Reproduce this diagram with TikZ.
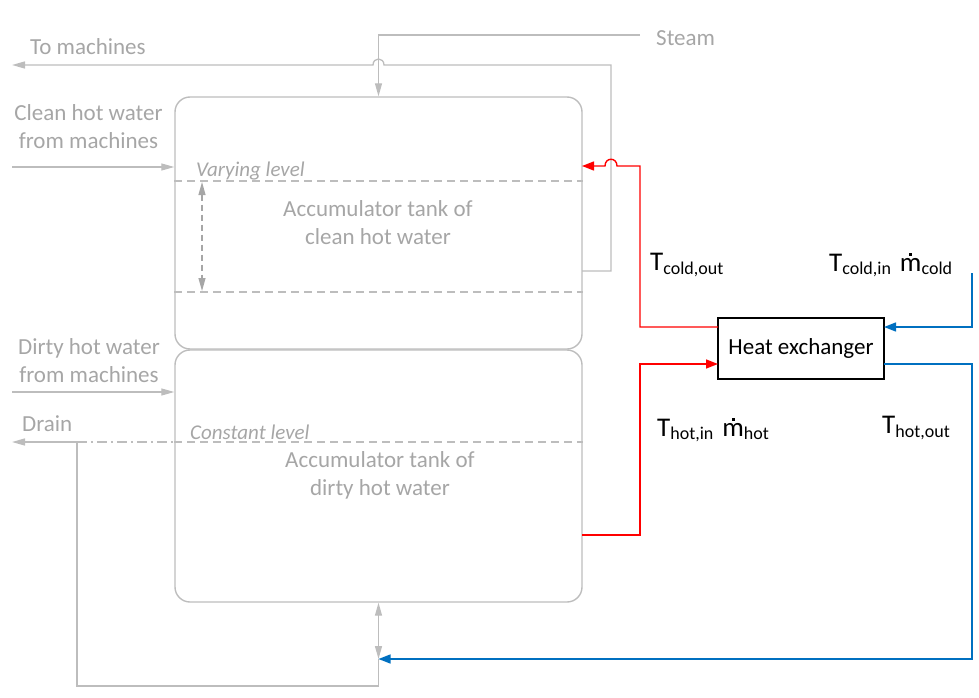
\documentclass[tikz,border=0pt]{standalone}
\usepackage{fontspec}
\setmainfont{Carlito}
\usetikzlibrary{arrows.meta}
\definecolor{txtgray}{HTML}{A6A6A6}
\definecolor{linegray}{HTML}{BDBDBD}
\definecolor{hotred}{HTML}{FF0000}
\definecolor{coldblue}{HTML}{0070C0}
\newsavebox{\mglyph}
\newcommand{\Tsym}[1]{{\fontsize{27bp}{30bp}\selectfont T}{\fontsize{18bp}{20bp}\selectfont\raisebox{-3.5bp}{#1}}}
% m with a small dot centred above it (mass flow rate)
\newcommand{\mdot}[1]{{\fontsize{27bp}{30bp}\selectfont\sbox{\mglyph}{m}%
  \makebox[0pt][l]{\makebox[\wd\mglyph][c]{\rule[15.5bp]{2.6bp}{2.6bp}}}\usebox{\mglyph}}%
  {\fontsize{18bp}{20bp}\selectfont\raisebox{-3.5bp}{#1}}}
\begin{document}
\begin{tikzpicture}[x=1bp,y=-1bp,
  txt/.style={text=txtgray, inner sep=0pt, font=\fontsize{23bp}{28bp}\selectfont},
  lvltxt/.style={text=txtgray, inner sep=0pt, font=\fontsize{21bp}{25bp}\selectfont\itshape},
  blk/.style={text=black, inner sep=0pt},
  tank/.style={draw=linegray, line width=1.4bp, rounded corners=15bp,
    minimum width=407bp, inner sep=0pt},
  pipe/.style={draw=linegray, line width=1.3bp},
  level/.style={draw=linegray, line width=1.8bp, dash pattern=on 8bp off 5bp},
  hot/.style={draw=hotred, line width=1.4bp},
  cold/.style={draw=coldblue, line width=1.4bp},
  gtip/.style={-{Triangle[length=13bp,width=7bp]}},
  gtips/.style={{Triangle[length=13bp,width=7bp]}-{Triangle[length=13bp,width=7bp]}},
  ctip/.style={-{Triangle[length=12bp,width=9bp]}},
]
\useasboundingbox (0,0) rectangle (979,698);

% tanks
\node[tank, minimum height=252bp] (ut) at (378.5,223) {};
\node[tank, minimum height=252bp] (lt) at (378.5,476) {};

% heat exchanger
\node[draw=black, line width=1.2bp, minimum width=166bp, minimum height=61bp,
  inner sep=0pt, font=\fontsize{23bp}{28bp}\selectfont] (hx) at (801,348.5) {Heat exchanger};

% texts
\node[txt, anchor=west] (tomach) at (30,47) {To machines};
\node[txt, anchor=west] (steam) at (656,38) {Steam};
\node[txt, align=center] (cleanin) at (88.5,127) {Clean hot water\\from machines};
\node[txt, align=center] (dirtyin) at (89,361) {Dirty hot water\\from machines};
\node[txt, anchor=west] (drain) at (22,424) {Drain};
\node[lvltxt, anchor=west] (varlev) at (196,171) {Varying level};
\node[lvltxt, anchor=west] (conlev) at (190,432) {Constant level};
\node[txt, align=center] (utlabel) at (378,223) {Accumulator tank of\\clean hot water};
\node[txt, align=center] (ltlabel) at (380,475) {Accumulator tank of\\dirty hot water};

\node[blk, anchor=west] (tco) at (650,265) {\Tsym{cold,out}};
\node[blk, anchor=west] (tci) at (829,265) {\Tsym{cold,in}\hspace{9bp}\mdot{cold}};
\node[blk, anchor=west] (thi) at (657,430) {\Tsym{hot,in}\hspace{9bp}\mdot{hot}};
\node[blk, anchor=west] (tho) at (882,428) {\Tsym{hot,out}};

% connection points
\coordinate (steamsrc) at (640,35);
\coordinate (uret) at (582,271);
\coordinate (tmtop) at (611,65);
\coordinate (hopR) at (384,65);
\coordinate (hopL) at (373,65);
\coordinate (tmout) at (12,65);
\coordinate (cleanfrom) at (12,167);
\coordinate (dirtyfrom) at (12,392);
\coordinate (vtop) at (0,181);
\coordinate (vbot) at (0,292);
\coordinate (ctop) at (0,442);
\coordinate (hxco) at (718,327);
\coordinate (redtop) at (640,166);
\coordinate (rhopR) at (617,166);
\coordinate (rhopL) at (605,166);
\coordinate (cin) at (582,166);
\coordinate (dout) at (582,535);
\coordinate (hotbend) at (640,364);
\coordinate (hxhi) at (718,364);
\coordinate (coldsrc) at (972,273);
\coordinate (hxci) at (884,327);
\coordinate (hxho) at (884,364);
\coordinate (bluebot) at (972,659);
\coordinate (mix) at (378.5,659);
\coordinate (drainturn) at (77,686);
\coordinate (drainj) at (77,442);
\coordinate (drainout) at (12,442);

% level marks
\draw[level] (ut.west |- vtop) -- (ut.east |- vtop);
\draw[level] (ut.west |- vbot) -- (ut.east |- vbot);
\draw[level] (lt.west |- ctop) -- (lt.east |- ctop);
\draw[draw=txtgray, line width=1.2bp, dash pattern=on 6bp off 4bp, gtips]
  (202,182) -- (202,291);

% steam and clean water circuit
\draw[pipe, gtip] (steamsrc) -| (ut.north);
\draw[pipe, gtip] (uret) -| (tmtop) -- (hopR)
  .. controls +(0,-8) and +(0,-8) .. (hopL) -- (tmout);
\draw[pipe, gtip] (cleanfrom) -- (ut.west |- cleanfrom);
\draw[pipe, gtip] (dirtyfrom) -- (lt.west |- dirtyfrom);

% heat exchanger loops
\draw[hot, ctip] (hxco) -| (redtop) -- (rhopR)
  .. controls +(0,-9) and +(0,-9) .. (rhopL) -- (cin);
\draw[hot, ctip] (dout) -| (hotbend) -- (hxhi);
\draw[cold, ctip] (coldsrc) |- (hxci);
\draw[cold, ctip] (hxho) -| (bluebot) -- (mix);

% bottom outlet and drain
\draw[pipe, gtips] (lt.south) -- (mix);
\draw[pipe, gtip] (mix) |- (drainturn) -- (drainj) -- (drainout);
\draw[draw=linegray, line width=1.3bp, dash pattern=on 10bp off 4bp on 2bp off 4bp]
  (drainj) -- (lt.west |- drainj);
\end{tikzpicture}
\end{document}
